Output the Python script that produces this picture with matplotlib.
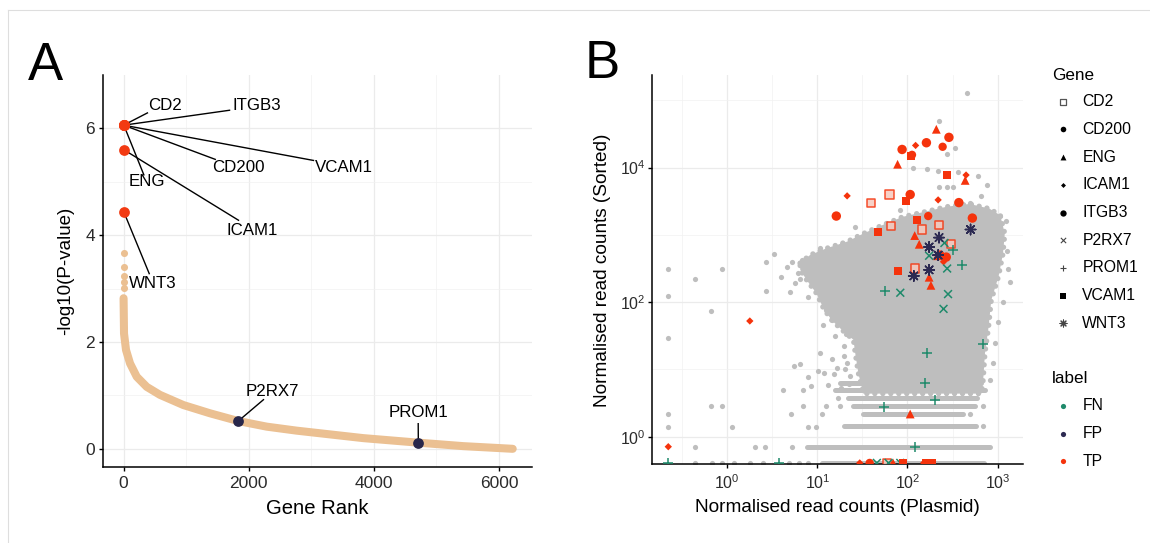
import matplotlib
matplotlib.use('Agg')
import matplotlib.pyplot as plt
import numpy as np

plt.rcParams['font.family'] = ['Liberation Sans', 'DejaVu Sans']
plt.rcParams['mathtext.fontset'] = 'custom'
plt.rcParams['mathtext.rm'] = 'Liberation Sans'
plt.rcParams['mathtext.it'] = 'Liberation Sans:italic'
plt.rcParams['mathtext.bf'] = 'Liberation Sans:bold'

# ---------------- panel A data ----------------
# ranked curve
curve_rank = [1, 8, 40, 104, 211, 371, 583, 955, 1382, 1834, 2288, 2767, 3831, 4710, 5428, 6218]
curve_p = [2.82, 2.16, 1.85, 1.60, 1.35, 1.16, 1.01, 0.82, 0.665, 0.52, 0.415, 0.34, 0.20, 0.115, 0.05, 0.0]
# a few separate dots at the very top of the curve
top_rank = [1, 2, 3, 4, 5]
top_p = [3.66, 3.40, 3.24, 3.13, 3.01]

hit_genes = ['CD2', 'ITGB3', 'CD200', 'VCAM1', 'ENG', 'ICAM1', 'WNT3']
hit_rank = [1, 2, 3, 4, 5, 6, 7]
hit_p = [6.06, 6.06, 6.06, 6.06, 6.06, 5.60, 4.43]
miss_genes = ['P2RX7', 'PROM1']
miss_rank = [1834, 4710]
miss_p = [0.52, 0.115]

# label placement (ggrepel style): text centre and end of leader segment
lab_x = {'CD2': 667, 'ITGB3': 2122, 'CD200': 1837, 'VCAM1': 3520, 'ENG': 371,
         'ICAM1': 2048, 'WNT3': 468, 'P2RX7': 2379, 'PROM1': 4707}
lab_y = {'CD2': 6.42, 'ITGB3': 6.42, 'CD200': 5.26, 'VCAM1': 5.26, 'ENG': 5.0,
         'ICAM1': 4.09, 'WNT3': 3.10, 'P2RX7': 1.08, 'PROM1': 0.68}
seg_x = {'CD2': 382, 'ITGB3': 1694, 'CD200': 1466, 'VCAM1': 3035, 'ENG': 325,
         'ICAM1': 1837, 'WNT3': 411, 'P2RX7': 2236, 'PROM1': 4708}
seg_y = {'CD2': 6.29, 'ITGB3': 6.34, 'CD200': 5.42, 'VCAM1': 5.40, 'ENG': 5.13,
         'ICAM1': 4.28, 'WNT3': 3.28, 'P2RX7': 0.92, 'PROM1': 0.47}

# ---------------- panel B data (log10 units) ----------------
# outline of the dense grey cloud
cloud_lx = [0.807, 0.918, 1.10, 1.33, 1.51, 1.73, 1.95, 2.18, 2.44, 2.69, 2.91, 3.03, 3.08,
            3.06, 3.01, 2.93, 2.90, 2.86, 2.84, 2.82, 1.51, 1.455, 1.42, 1.40, 1.27, 1.16,
            1.07, 0.99, 0.88, 0.81]
cloud_ly = [2.58, 2.70, 2.80, 2.90, 3.02, 3.15, 3.27, 3.34, 3.42, 3.46, 3.39, 3.29, 3.02,
            2.72, 2.38, 2.03, 1.63, 1.24, 0.84, 0.64, 0.64, 0.94, 1.24, 1.44, 1.59, 1.73,
            1.90, 2.13, 2.33, 2.48]
# rows of low integer counts
band_ly = [0.80, 0.69, 0.57, 0.46, 0.337, 0.155, -0.149, -0.39]
band_lx0 = [1.25, 1.20, 1.34, 1.40, 1.51, 1.29, 0.88, 1.05]
band_lx1 = [2.82, 2.86, 2.77, 2.75, 2.62, 2.76, 2.92, 2.85]
# scattered grey genes outside the cloud
grey_lx = [2.66, 2.35, 2.53, 2.44, 2.06, 2.22, 2.34, 2.56, 2.78, 2.35, 2.44, 2.51, 2.88, 2.82,
           1.42, 2.69, 1.03, 1.27, 0.52, 1.92, 3.03, 3.09, 3.10,
           -0.655, -0.655, -0.655, -0.36, -0.055, -0.18, 0.43, 0.43, 0.60, 0.74, 0.81, 0.90,
           0.62, 0.84, 0.93, -0.18, -0.055, 0.84, 0.70, 0.75, 0.81, 0.86, 0.83, 0.94, 0.99,
           0.90, 1.06, 1.16, 1.10, 1.03, 1.16, 1.07, 1.18, 1.12, 1.23, 1.01,
           -0.655, -0.655, -0.36, 0.05, 0.31, 0.42, 0.71, 0.90, 0.99, 1.05, 1.10, 1.25,
           2.84, 2.69, 2.84, 0.715,
           -0.36, -0.17, -0.06, 0.07, 0.25, 0.40, 0.69, 0.80, 0.90,
           0.72, 0.66, 0.78, 0.95, 1.00, 1.20, 1.30, 1.33, 1.36, 1.22, 1.30, 1.26, 1.38,
           3.12, 3.14, 3.06, 3.00, 2.97, 2.95, 2.92, 1.32, 1.35, 1.31]
grey_ly = [5.11, 4.69, 4.29, 4.20, 4.00, 3.98, 3.95, 3.93, 3.88, 3.71, 3.71, 3.71, 3.74, 3.58,
           3.11, 3.47, 2.81, 2.86, 2.72, 3.37, 3.28, 3.21, 2.76,
           2.49, 2.09, 1.46, 2.35, 2.49, 1.87, 2.59, 2.17, 2.37, 1.05, 1.08, 0.89,
           0.69, 0.69, 0.76, 0.46, 0.46, 0.46, 2.15, 2.28, 2.35, 2.48, 2.62, 2.63, 2.58,
           2.08, 1.66, 1.73, 1.88, 1.24, 1.16, 0.94, 0.93, 0.77, 0.57, 0.97,
           0.33, 0.15, -0.15, 0.15, -0.15, -0.15, 0.33, 0.15, 0.15, 0.337, 0.46, 0.46,
           0.46, 0.337, 0.155, -0.149,
           -0.39, -0.39, -0.39, -0.39, -0.39, -0.39, -0.39, -0.39, -0.39,
           2.60, 2.52, 2.43, 2.30, 2.20, 1.50, 1.35, 1.10, 0.90, 1.02, 1.20, 0.72, 1.60,
           2.50, 2.30, 2.00, 1.70, 1.40, 1.10, 0.85, 1.52, 0.78, 1.00]

# highlighted genes: gene, label, log10 plasmid, log10 sorted
hl_gene = (['ENG'] * 10 + ['ITGB3'] * 9 + ['CD200'] * 4 + ['ICAM1'] * 9 + ['VCAM1'] * 9
           + ['CD2'] * 8 + ['WNT3'] * 6 + ['P2RX7'] * 9 + ['PROM1'] * 11)
hl_label = (['TP'] * 10 + ['TP'] * 9 + ['TP'] * 4 + ['TP'] * 9 + ['TP'] * 9
            + ['TP'] * 8 + ['FP'] * 6 + ['FN'] * 9 + ['FN'] * 11)
hl_lx = [2.32, 1.89, 2.64, 2.08, 2.13, 2.33, 2.24, 2.26, 2.03, 1.84,
         2.46, 1.94, 2.21, 2.03, 2.57, 1.21, 2.72, 2.36, 2.43,
         2.39, 2.23, 2.05, 1.58,
         2.09, 2.65, 1.33, 2.34, 2.40, 0.25, -0.655, 1.47, 2.18,
         2.04, 2.44, 1.98, 2.11, 1.67, 1.89, 1.95, 2.27, 2.21,
         1.80, 1.59, 1.82, 2.16, 2.35, 2.48, 2.08, 1.77,
         2.70, 2.35, 2.24, 2.34, 2.24, 2.07,
         2.41, 2.24, 2.44, 1.92, 2.45, 2.40, 1.66, 1.79, 1.92,
         2.51, 2.60, 1.75, 2.84, 2.22, 2.19, 2.31, 1.74, 2.08, 0.57, -0.655]
hl_ly = [4.57, 4.05, 3.81, 2.99, 2.86, 2.69, 2.37, 2.25, 0.337, -0.39,
         4.45, 4.27, 4.37, 3.60, 3.48, 3.28, 3.25, 2.70, 2.67,
         4.31, 3.28, 4.19, -0.39,
         4.33, 3.89, 3.58, 3.52, 2.60, 1.72, -0.149, -0.39, -0.39,
         4.17, 3.89, 3.51, 3.22, 3.04, 2.46, -0.39, -0.39, -0.39,
         3.60, 3.48, 3.13, 3.08, 3.15, 2.87, 2.50, -0.39,
         3.08, 2.96, 2.82, 2.70, 2.48, 2.39,
         2.88, 2.69, 2.50, 2.14, 2.12, 1.90, -0.39, -0.39, -0.39,
         2.77, 2.55, 2.17, 1.38, 1.25, 0.80, 0.545, 0.446, -0.149, -0.39, -0.39]

legend_genes = ['CD2', 'CD200', 'ENG', 'ICAM1', 'ITGB3', 'P2RX7', 'PROM1', 'VCAM1', 'WNT3']
legend_labels = ['FN', 'FP', 'TP']

# ---------------- styles ----------------
lab_col = {'FN': '#1f8a6b', 'FP': '#2c2a52', 'TP': '#f5330c'}
gene_marker = {'CD2': 's', 'CD200': 'o', 'ENG': '^', 'ICAM1': 'D', 'ITGB3': 'o',
               'P2RX7': 'x', 'PROM1': '+', 'VCAM1': 's', 'WNT3': (8, 2, 0)}
gene_size = {'CD2': 34, 'CD200': 36, 'ENG': 40, 'ICAM1': 14, 'ITGB3': 46,
             'P2RX7': 32, 'PROM1': 52, 'VCAM1': 34, 'WNT3': 56}
grid_col = '#ebebeb'
tick_col = '#2b2b2b'

W, H = 1150, 543
fig = plt.figure(figsize=(W / 100, H / 100), dpi=100)


def box(l, t, r, b):
    return [l / W, 1 - b / H, (r - l) / W, (b - t) / H]


def style_axes(ax, size):
    for s in ['top', 'right']:
        ax.spines[s].set_visible(False)
    for s in ['left', 'bottom']:
        ax.spines[s].set_linewidth(1.1)
        ax.spines[s].set_color('black')
    ax.grid(which='major', color=grid_col, lw=0.9)
    ax.grid(which='minor', color='#f1f1f1', lw=0.5)
    ax.set_axisbelow(True)
    ax.tick_params(which='major', length=3, width=1.0, color='black',
                   labelsize=size, labelcolor=tick_col)
    ax.tick_params(which='minor', length=0)


# ---------------- panel A ----------------
ax = fig.add_axes(box(103.3, 75, 532, 466.7))
ax.set_xlim(-323, 6526)
ax.set_ylim(-0.335, 7.0)
ax.set_xticks([0, 2000, 4000, 6000])
ax.set_xticks([1000, 3000, 5000], minor=True)
ax.set_yticks([0, 2, 4, 6])
ax.set_yticks([1, 3, 5], minor=True)
style_axes(ax, 12.5)
ax.tick_params(axis='x', pad=3.5)
ax.tick_params(axis='y', pad=3)

curve_col = '#ebc092'
ax.plot(curve_rank, curve_p, color=curve_col, lw=5.8, solid_capstyle='round',
        solid_joinstyle='round', zorder=2)
ax.scatter(top_rank, top_p, s=26, color=curve_col, lw=0, zorder=2)
ax.scatter(hit_rank, hit_p, s=60, color='#f23a12', lw=0, zorder=4)
ax.scatter(miss_rank, miss_p, s=60, color='#28264a', lw=0, zorder=4)

for g, r, p in zip(hit_genes + miss_genes, hit_rank + miss_rank, hit_p + miss_p):
    ax.plot([r, seg_x[g]], [p, seg_y[g]], color='black', lw=1.0, zorder=3)
    ax.text(lab_x[g], lab_y[g], g, fontsize=12.2, ha='center', va='center', zorder=5)

fig.text(317.7 / W, 1 - 513.5 / H, 'Gene Rank', fontsize=14.6, ha='center', va='baseline')
fig.text(65.5 / W, 1 - 270.9 / H, '-log10(P-value)', fontsize=13.5, rotation=90,
         ha='center', va='center')
fig.text(28 / W, 1 - 79.6 / H, 'A', fontsize=38, ha='left', va='baseline')

# ---------------- panel B ----------------
bx = fig.add_axes(box(651.7, 75, 1023, 464))
bx.set_xscale('log')
bx.set_yscale('log')
bx.set_xlim(10 ** -0.839, 10 ** 3.282)
bx.set_ylim(10 ** -0.406, 10 ** 5.377)
bx.set_xticks([1, 10, 100, 1000])
bx.set_xticklabels(['$10^{0}$', '$10^{1}$', '$10^{2}$', '$10^{3}$'])
bx.set_xticks(10 ** np.array([-0.5, 0.5, 1.5, 2.5]), minor=True)
bx.set_yticks([1, 100, 10000])
bx.set_yticklabels(['$10^{0}$', '$10^{2}$', '$10^{4}$'])
bx.set_yticks([10, 1000, 100000], minor=True)
bx.xaxis.set_minor_formatter(matplotlib.ticker.NullFormatter())
bx.yaxis.set_minor_formatter(matplotlib.ticker.NullFormatter())
style_axes(bx, 11.5)
bx.tick_params(axis='x', pad=3.5)
bx.tick_params(axis='y', pad=1.5)

grey = '#bebebe'
bx.fill(10 ** np.array(cloud_lx), 10 ** np.array(cloud_ly), facecolor=grey,
        edgecolor='none', zorder=1)
# beaded outline so the cloud edge reads as single points
bx.fill(10 ** np.array(cloud_lx), 10 ** np.array(cloud_ly), facecolor='none',
        edgecolor=grey, lw=3.8, ls=(0, (0.01, 1.5)), capstyle='round', zorder=1)
for y, a, b in zip(band_ly, band_lx0, band_lx1):
    bx.plot([10 ** a, 10 ** b], [10 ** y, 10 ** y], color=grey, lw=3.6,
            solid_capstyle='round', zorder=1)
bx.scatter(10 ** np.array(grey_lx), 10 ** np.array(grey_ly), s=14, color=grey, lw=0, zorder=1)

for g in legend_genes:
    idx = [i for i, gg in enumerate(hl_gene) if gg == g]
    xs = 10 ** np.array([hl_lx[i] for i in idx])
    ys = 10 ** np.array([hl_ly[i] for i in idx])
    cs = [lab_col[hl_label[i]] for i in idx]
    if g == 'CD2':
        bx.scatter(xs, ys, s=gene_size[g], marker='s', facecolors='#f6c9bd',
                   edgecolors=cs, lw=1.1, alpha=0.85, zorder=3)
    elif g in ('P2RX7', 'PROM1', 'WNT3'):
        bx.scatter(xs, ys, s=gene_size[g], marker=gene_marker[g], c=cs, lw=1.1, zorder=3)
    else:
        bx.scatter(xs, ys, s=gene_size[g], marker=gene_marker[g], c=cs, lw=0, zorder=3)

fig.text(837.3 / W, 1 - 511.5 / H, 'Normalised read counts (Plasmid)', fontsize=13.7,
         ha='center', va='baseline')
fig.text(602.5 / W, 1 - 270 / H, 'Normalised read counts (Sorted)', fontsize=13.7,
         rotation=90, ha='center', va='center')
fig.text(585 / W, 1 - 78.3 / H, 'B', fontsize=38, ha='left', va='baseline')

# ---------------- legends + frame (pixel overlay) ----------------
ov = fig.add_axes([0, 0, 1, 1])
ov.set_xlim(0, W)
ov.set_ylim(H, 0)
ov.axis('off')
ov.plot([8, W], [10, 10], color='#dedede', lw=0.8)
ov.plot([8, 8], [10, H], color='#dedede', lw=0.8)

ov.text(1051.7, 75, 'Gene', fontsize=12.3, ha='left', va='center')
for k, g in enumerate(legend_genes):
    yy = 101.7 + k * 27.7
    if g == 'CD2':
        ov.scatter([1063.3], [yy], s=14, marker='s', facecolors='white',
                   edgecolors='#555555', lw=0.9)
    elif g in ('P2RX7', 'PROM1', 'WNT3'):
        ov.scatter([1063.3], [yy], s=gene_size[g] * 0.45, marker=gene_marker[g],
                   c='#444444', lw=0.8)
    else:
        ov.scatter([1063.3], [yy], s=gene_size[g] * 0.45, marker=gene_marker[g],
                   c='black', lw=0)
    ov.text(1082.3, yy, g, fontsize=11.3, ha='left', va='center')

ov.text(1051.7, 378.3, 'label', fontsize=12.3, ha='left', va='center')
for k, lb in enumerate(legend_labels):
    yy = 406 + k * 27.5
    ov.scatter([1063.3], [yy], s=14, c=lab_col[lb], lw=0)
    ov.text(1082.3, yy, lb, fontsize=11.3, ha='left', va='center')

fig.savefig('out.png', dpi=100)
